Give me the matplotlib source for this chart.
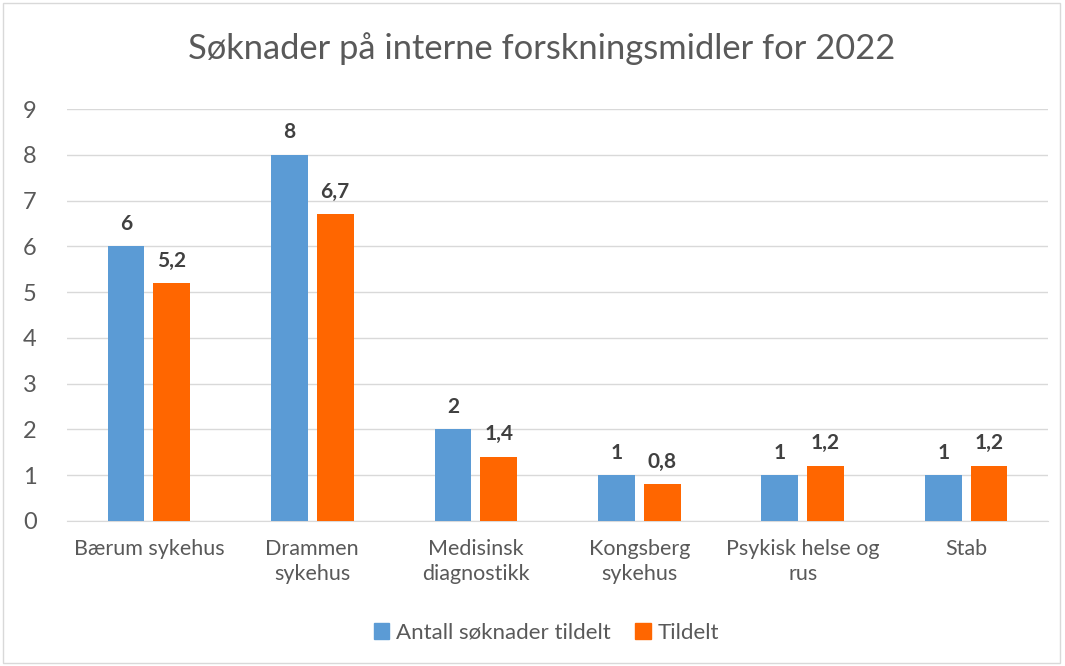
import matplotlib.pyplot as plt
import numpy as np
from matplotlib.patches import Rectangle, Patch

plt.rcParams['font.family'] = ['Lato', 'DejaVu Sans']

categories = ['Bærum sykehus', 'Drammen\nsykehus', 'Medisinsk\ndiagnostikk',
              'Kongsberg\nsykehus', 'Psykisk helse og\nrus', 'Stab']
antall = [6, 8, 2, 1, 1, 1]
tildelt = [5.2, 6.7, 1.4, 0.8, 1.2, 1.2]
series_names = ['Antall søknader tildelt', 'Tildelt']

blue = '#5B9BD5'
orange = '#FF6600'
grey = '#595959'

fig = plt.figure(figsize=(10.65, 6.66), dpi=100)
ax = fig.add_axes([0.063, 0.218, 0.921, 0.618])

x = np.arange(len(categories))
w = 0.225
b1 = ax.bar(x - 0.14, antall, w, color=blue, zorder=3)
b2 = ax.bar(x + 0.14, tildelt, w, color=orange, zorder=3)

# value labels, with decimal comma
for bars, vals in [(b1, antall), (b2, tildelt)]:
    for bar, v in zip(bars, vals):
        txt = ('%g' % v).replace('.', ',')
        ax.annotate(txt, (bar.get_x() + bar.get_width() / 2, v),
                    xytext=(0, 9), textcoords='offset points',
                    ha='center', va='bottom', fontsize=15, fontweight='bold',
                    color='#404040')

ax.set_xlim(-0.5, len(categories) - 0.5)
ax.set_ylim(0, 9)
ax.set_yticks(range(10))
ax.yaxis.grid(True, color='#d9d9d9', linewidth=1, zorder=0)
ax.set_xticks(x)
ax.set_xticklabels(categories, fontsize=15.5, color=grey, linespacing=1.35)
ax.tick_params(axis='y', labelsize=17, colors=grey, length=0, pad=22)
ax.tick_params(axis='x', length=0, pad=13)
for s in ['left', 'right', 'top']:
    ax.spines[s].set_visible(False)
ax.spines['bottom'].set_color('#d9d9d9')

fig.suptitle('Søknader på interne forskningsmidler for 2022', x=0.509, y=0.951,
             fontsize=24.8, color=grey)

handles = [Patch(color=blue, label=series_names[0]),
           Patch(color=orange, label=series_names[1])]
fig.legend(handles=handles, loc='center', bbox_to_anchor=(0.513, 0.05), ncol=2,
           frameon=False, fontsize=16, labelcolor=grey, handlelength=0.7,
           handleheight=0.7, handletextpad=0.3, columnspacing=1.1)

fig.patches.append(Rectangle((0.003, 0.005), 0.992, 0.99, transform=fig.transFigure,
                             fill=False, edgecolor='#d9d9d9', linewidth=1))

fig.savefig('out.png', dpi=100)
